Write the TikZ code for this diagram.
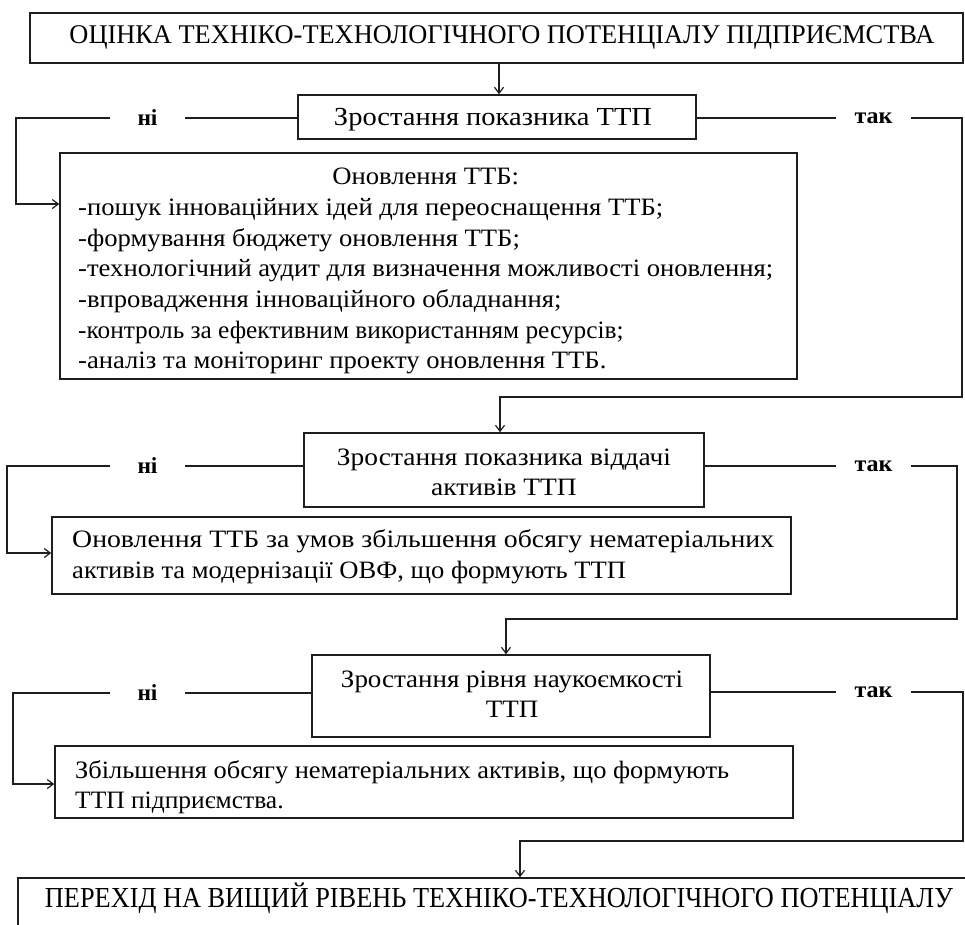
\documentclass[tikz,border=0pt]{standalone}
\usepackage{fontspec}
\setmainfont{Liberation Serif}
\usepackage{graphicx}
\usetikzlibrary{arrows.meta,fit}
\definecolor{ink}{RGB}{30,30,30}
\newcommand{\fitw}[2]{\resizebox{#1pt}{\height}{#2}}
\newcommand{\narrow}[2]{\scalebox{#1}[1]{#2}}
\begin{document}
\begin{tikzpicture}[x=1pt,y=-1pt,
  bx/.style={draw=ink,line width=1.5pt,inner sep=0pt},
  tx/.style={inner sep=0pt,text=black},
  lbl/.style={inner sep=0pt,minimum width=74pt,minimum height=16pt,font=\fontsize{23}{26}\selectfont\bfseries},
  ln/.style={draw=ink,line width=1.5pt},
  arr/.style={draw=ink,line width=1.5pt,-{Straight Barb[length=6pt,width=9pt,line width=1.2pt]}}]
\clip (0,0) rectangle (965,924);
\fill[white] (0,0) rectangle (965,924);

% boxes
\node[bx, fit={(30,13) (963,63)}] (b1) {};
\node[bx, fit={(298,95) (696,139)}] (b2) {};
\node[bx, fit={(60,153) (797,379)}] (b3) {};
\node[bx, fit={(304,433) (704,507)}] (b4) {};
\node[bx, fit={(52,517) (791,594)}] (b5) {};
\node[bx, fit={(312,655) (710,737)}] (b6) {};
\node[bx, fit={(55,746) (793,818)}] (b7) {};
\node[bx, fit={(18,878) (1000,980)}] (b8) {};

% texts
\node[tx, font=\fontsize{27}{32}\selectfont, anchor=mid] (t1) at (502,41.5)
  {\fitw{865}{ОЦІНКА ТЕХНІКО-ТЕХНОЛОГІЧНОГО ПОТЕНЦІАЛУ ПІДПРИЄМСТВА}};
\node[tx, font=\fontsize{26}{30}\selectfont, anchor=mid] (t2) at (493,123)
  {\fitw{318}{Зростання показника ТТП}};
\node[tx, font=\fontsize{25}{30.7}\selectfont, anchor=north west] (t3) at (78,163)
  {\fitw{695}{\begin{tabular}{@{}l@{}}
  \multicolumn{1}{@{}c@{}}{Оновлення ТТБ:}\\
  -пошук інноваційних ідей для переоснащення ТТБ;\\
  -формування бюджету оновлення ТТБ;\\
  -технологічний аудит для визначення можливості оновлення;\\
  -впровадження інноваційного обладнання;\\
  \narrow{0.95}{-контроль за ефективним використанням ресурсів;}\\
  -аналіз та моніторинг проекту оновлення ТТБ.
  \end{tabular}}};
\node[tx, font=\fontsize{25}{30}\selectfont, anchor=north] (t4) at (504,444.5)
  {\fitw{334}{\begin{tabular}{@{}c@{}}Зростання показника віддачі\\ активів ТТП\end{tabular}}};
\node[tx, font=\fontsize{25}{31}\selectfont, anchor=north west] (t5) at (72,525.8)
  {\fitw{702}{\begin{tabular}{@{}l@{}}Оновлення ТТБ за умов збільшення обсягу нематеріальних\\ \narrow{0.957}{активів та модернізації ОВФ, що формують ТТП}\end{tabular}}};
\node[tx, font=\fontsize{25}{30}\selectfont, anchor=north] (t6) at (512,666.5)
  {\fitw{342}{\begin{tabular}{@{}c@{}}Зростання рівня наукоємкості\\ ТТП\end{tabular}}};
\node[tx, font=\fontsize{25}{30}\selectfont, anchor=north west] (t7) at (75,757.5)
  {\fitw{654}{\begin{tabular}{@{}l@{}}Збільшення обсягу нематеріальних активів, що формують\\ \narrow{0.964}{ТТП підприємства.}\end{tabular}}};
\node[tx, font=\fontsize{29}{34}\selectfont, anchor=mid] (t8) at (499,905.5)
  {\fitw{908}{ПЕРЕХІД НА ВИЩИЙ РІВЕНЬ ТЕХНІКО-ТЕХНОЛОГІЧНОГО ПОТЕНЦІАЛУ}};

% labels
\node[lbl] (n1) at (147.5,118) {\fitw{20}{ні}};
\node[lbl] (y1) at (873.5,118) {\fitw{38}{так}};
\node[lbl] (n2) at (147.5,466) {\fitw{20}{ні}};
\node[lbl] (y2) at (873.5,466) {\fitw{38}{так}};
\node[lbl] (n3) at (147.5,693) {\fitw{20}{ні}};
\node[lbl] (y3) at (873.5,692) {\fitw{38}{так}};

% waypoints
\coordinate (a1) at (499,0);
\coordinate (p1) at (16,204);
\coordinate (q1) at (962,397);
\coordinate (r1) at (500,397);
\coordinate (p2) at (7,553);
\coordinate (q2) at (957,619);
\coordinate (r2) at (506,619);
\coordinate (p3) at (13,784);
\coordinate (q3) at (963,841);
\coordinate (r3) at (520,841);

% connectors
\draw[arr] (b1.south -| a1) -- (b2.north -| a1);

\draw[ln] (n1 -| b2.west) -- (n1.east);
\draw[arr] (n1.west) -| (p1) -- (p1 -| b3.west);
\draw[ln] (y1 -| b2.east) -- (y1.west);
\draw[arr] (y1.east) -| (q1) -- (r1) -- (r1 |- b4.north);

\draw[ln] (n2 -| b4.west) -- (n2.east);
\draw[arr] (n2.west) -| (p2) -- (p2 -| b5.west);
\draw[ln] (y2 -| b4.east) -- (y2.west);
\draw[arr] (y2.east) -| (q2) -- (r2) -- (r2 |- b6.north);

\draw[ln] (n3 -| b6.west) -- (n3.east);
\draw[arr] (n3.west) -| (p3) -- (p3 -| b7.west);
\draw[ln] (y3 -| b6.east) -- (y3.west);
\draw[arr] (y3.east) -| (q3) -- (r3) -- (r3 |- b8.north);
\end{tikzpicture}
\end{document}
